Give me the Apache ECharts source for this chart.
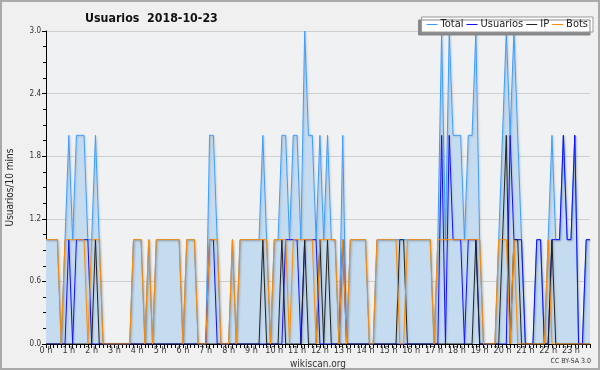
<!DOCTYPE html>
<html><head><meta charset="utf-8">
<script src="https://cdn.jsdelivr.net/npm/echarts@6/dist/echarts.min.js"></script>
<style>html,body{margin:0;padding:0;background:#f0f0f0}#c{width:600px;height:370px}</style>
</head><body><div id="c"></div>
<script>
const hourLabels = ['0 h','1 h','2 h','3 h','4 h','5 h','6 h','7 h','8 h','9 h','10 h','11 h','12 h','13 h','14 h','15 h','16 h','17 h','18 h','19 h','20 h','21 h','22 h','23 h'];
const yTicks = [0, 0.6, 1.2, 1.8, 2.4, 3.0];
// values per 10-minute slot, one line per hour (6 slots)
const total = [
 1,1,1,1,0,1, 2,1,2,2,2,1, 1,2,1,0,0,0, 0,0,0,0,0,1,
 1,1,0,1,0,1, 1,1,1,1,1,1, 0,1,1,1,0,0, 0,2,2,1,0,0,
 0,1,0,1,1,1, 1,1,1,2,1,0, 1,1,2,2,1,2, 2,1,3,2,2,1,
 2,1,2,1,1,0, 2,0,1,1,1,1, 1,0,0,1,1,1, 1,1,1,1,1,1,
 1,1,1,1,1,1, 0,1,3,1,3,2, 2,2,1,2,2,3, 1,0,0,0,0,1,
 2,3,2,3,2,1, 0,0,0,1,1,0, 1,2,1,1,2,1, 1,2,0,0,1,1];
const usuarios = [
 0,0,0,0,0,0, 1,0,1,1,1,1, 0,0,0,0,0,0, 0,0,0,0,0,0,
 0,0,0,0,0,0, 0,0,0,0,0,0, 0,0,0,0,0,0, 0,1,1,0,0,0,
 0,0,0,0,0,0, 0,0,0,0,0,0, 0,0,0,1,1,1, 1,0,1,1,1,1,
 0,0,0,0,0,0, 1,0,0,0,0,0, 0,0,0,0,0,0, 0,0,0,0,0,0,
 0,0,0,0,0,0, 0,0,2,0,2,1, 1,1,0,1,1,1, 0,0,0,0,0,0,
 0,0,2,1,1,1, 0,0,0,1,1,0, 0,1,1,1,2,1, 1,2,0,0,1,1];
const ip = [
 0,0,0,0,0,0, 0,0,0,0,0,0, 0,1,0,0,0,0, 0,0,0,0,0,0,
 0,0,0,0,0,0, 0,0,0,0,0,0, 0,0,0,0,0,0, 0,0,0,0,0,0,
 0,0,0,0,0,0, 0,0,0,1,0,0, 0,0,1,0,0,0, 0,0,1,0,0,0,
 1,0,1,0,0,0, 0,0,0,0,0,0, 0,0,0,0,0,0, 0,0,0,1,1,0,
 0,0,0,0,0,0, 0,0,0,0,0,0, 0,0,0,0,0,1, 0,0,0,0,0,0,
 1,2,0,1,1,0, 0,0,0,0,0,0, 0,1,0,0,0,0, 0,0,0,0,0,0];
const bots = [
 1,1,1,1,0,1, 1,1,1,1,1,0, 1,1,1,0,0,0, 0,0,0,0,0,1,
 1,1,0,1,0,1, 1,1,1,1,1,1, 0,1,1,1,0,0, 0,1,1,1,0,0,
 0,1,0,1,1,1, 1,1,1,1,1,0, 1,1,1,1,0,1, 1,1,1,1,1,0,
 1,1,1,1,1,0, 1,0,1,1,1,1, 1,0,0,1,1,1, 1,1,1,0,0,1,
 1,1,1,1,1,1, 0,1,1,1,1,1, 1,1,1,1,1,1, 1,0,0,0,0,1,
 1,1,0,1,0,0, 0,0,0,0,0,0, 1,0,0,0,0,0, 0,0,0,0,0,0];

const slots = [];
for (let h = 0; h < 24; h++) for (let m = 0; m < 60; m += 10) slots.push(h + ':' + (m < 10 ? '0' : '') + m);

const FONT = 'DejaVu Sans Condensed';
const shadow = {shadowColor:'rgba(0,0,0,0.18)', shadowBlur:2, shadowOffsetX:1, shadowOffsetY:1};
const chart = echarts.init(document.getElementById('c'), null, {renderer:'canvas'});
chart.setOption({
  backgroundColor:'#f0f0f0',
  animation:false,
  textStyle:{fontFamily:FONT},
  title:{text:'Usuarios  2018-10-23', left:80, top:8,
    textStyle:{fontFamily:FONT, fontWeight:'bold', fontSize:12.3, color:'#111'}},
  legend:{right:7, top:17, padding:[2,5,2,5], itemGap:3, itemWidth:11, itemHeight:1,
    icon:'rect', backgroundColor:'#ffffff', borderColor:'#999', borderWidth:1,
    shadowColor:'#888', shadowBlur:0, shadowOffsetX:-3, shadowOffsetY:3,
    textStyle:{fontFamily:FONT, fontSize:11, color:'#222', padding:[0,0,0,-2]},
    data:['Total','Usuarios','IP','Bots']},
  grid:{left:46, right:10, top:31, bottom:26, show:true, backgroundColor:'#eff1f3', borderWidth:0,
    containLabel:false, outerBoundsMode:'none'},
  xAxis:{type:'category', data:slots, boundaryGap:false,
    name:'wikiscan.org', nameLocation:'middle', nameGap:14,
    nameTextStyle:{fontFamily:FONT, fontSize:10, color:'#333'},
    axisLine:{lineStyle:{color:'#000', width:1}},
    axisTick:{interval:0, length:4, lineStyle:{color:'#000'}},
    axisLabel:{interval:5, margin:2, fontSize:9, color:'#333',
      formatter:(v, i) => (i % 6 === 0 ? hourLabels[i / 6] : '')},
    splitLine:{show:false}},
  yAxis:{type:'value', min:yTicks[0], max:yTicks[yTicks.length-1], interval:0.6,
    name:'Usuarios/10 mins', nameLocation:'middle', nameGap:31, nameRotate:90,
    nameTextStyle:{fontFamily:FONT, fontSize:10, color:'#222'},
    axisLine:{show:true, lineStyle:{color:'#000'}},
    axisTick:{show:true, length:4, lineStyle:{color:'#000'}},
    minorTick:{show:true, splitNumber:4, length:3, lineStyle:{color:'#000'}},
    axisLabel:{fontSize:8, color:'#333', margin:5, formatter:v => v.toFixed(1)},
    splitLine:{show:true, lineStyle:{color:'#cfcfcf', width:1}}},
  series:[
    {name:'Total', type:'line', data:total, symbol:'none', z:1,
      itemStyle:{color:'#3d9dff'},
      lineStyle:Object.assign({color:'#3d9dff', width:1}, shadow),
      areaStyle:{color:'#c5dcf0', opacity:1}},
    {name:'Usuarios', type:'line', data:usuarios, symbol:'none', z:2,
      itemStyle:{color:'#1010ff'},
      lineStyle:Object.assign({color:'#1010ff', width:1}, shadow)},
    {name:'IP', type:'line', data:ip, symbol:'none', z:3,
      itemStyle:{color:'#222'},
      lineStyle:Object.assign({color:'#222', width:1}, shadow)},
    {name:'Bots', type:'line', data:bots, symbol:'none', z:4,
      itemStyle:{color:'#ff8c00'},
      lineStyle:Object.assign({color:'#ff8c00', width:1}, shadow)}
  ],
  graphic:[
    {type:'rect', shape:{x:1, y:1, width:598, height:368}, style:{fill:'none', stroke:'#aaa', lineWidth:2}, silent:true},
    {type:'text', right:9, bottom:5, style:{text:'CC BY-SA 3.0', fontFamily:FONT, fontSize:7, fill:'#333'}}
  ]
});
</script></body></html>
